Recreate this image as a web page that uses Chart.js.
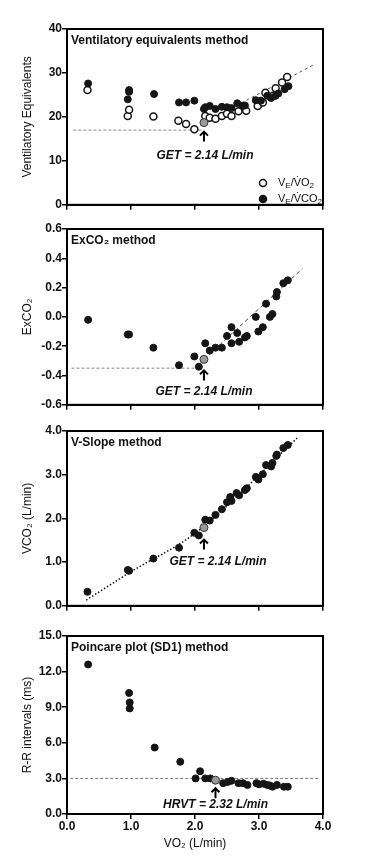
<!DOCTYPE html>
<html>
<head>
<meta charset="utf-8">
<script src="https://cdn.jsdelivr.net/npm/chart.js@4.4.1/dist/chart.umd.min.js"></script>
<style>
  body { margin: 0; background: #fff; width: 370px; height: 867px; position: relative; overflow: hidden; }
  canvas { position: absolute; left: 0; }
</style>
</head>
<body>
<canvas id="c1" width="370" height="195" style="top:17px"></canvas>
<canvas id="c2" width="370" height="195" style="top:217px"></canvas>
<canvas id="c3" width="370" height="194" style="top:419px"></canvas>
<canvas id="c4" width="370" height="229" style="top:624px"></canvas>
<script>
// ---- Panel 1: ventilatory equivalents ----
const veVo2X = [0.32, 0.95, 0.97, 1.35, 1.74, 1.86, 1.99, 2.16, 2.23, 2.32, 2.42, 2.50, 2.57, 2.68, 2.80, 2.98, 3.06, 3.10, 3.22, 3.26, 3.36, 3.44];
const veVo2Y = [26.1, 20.2, 21.6, 20.1, 19.1, 18.4, 17.2, 20.2, 19.8, 19.6, 20.2, 20.7, 20.2, 21.3, 21.4, 22.5, 23.3, 25.5, 24.8, 26.5, 27.8, 29.1];
const veVco2X = [0.33, 0.95, 0.97, 0.97, 1.36, 1.75, 1.86, 1.99, 2.14, 2.16, 2.23, 2.32, 2.42, 2.50, 2.57, 2.66, 2.74, 2.78, 2.95, 3.03, 3.13, 3.19, 3.26, 3.30, 3.40, 3.46];
const veVco2Y = [27.6, 24.0, 25.7, 26.1, 25.2, 23.3, 23.3, 23.7, 21.8, 22.2, 22.5, 21.8, 22.3, 22.2, 22.0, 23.1, 22.5, 22.6, 23.8, 23.7, 24.8, 24.3, 24.8, 25.3, 26.3, 27.0];
const veGet = [2.14, 18.7];
const veBaseX = [0.1, 2.1], veBaseY = [17.0, 17.0];
const veRiseX = [2.14, 3.86], veRiseY = [18.7, 31.9];

// ---- Panel 2: ExCO2 ----
const exX = [0.33, 0.95, 0.97, 1.35, 1.75, 1.99, 2.06, 2.16, 2.23, 2.32, 2.42, 2.50, 2.57, 2.57, 2.66, 2.69, 2.78, 2.81, 2.95, 2.99, 3.06, 3.11, 3.17, 3.21, 3.27, 3.28, 3.38, 3.45];
const exY = [-0.02, -0.12, -0.12, -0.21, -0.33, -0.27, -0.34, -0.18, -0.23, -0.21, -0.21, -0.13, -0.07, -0.18, -0.11, -0.17, -0.14, -0.13, 0.00, -0.10, -0.07, 0.09, 0.00, 0.02, 0.14, 0.17, 0.23, 0.25];
const exGet = [2.14, -0.29];
const exBaseX = [0.07, 2.1], exBaseY = [-0.35, -0.35];
const exRiseX = [2.14, 3.68], exRiseY = [-0.29, 0.33];

// ---- Panel 3: V-slope ----
const vsX = [0.32, 0.95, 0.97, 1.35, 1.75, 1.99, 2.06, 2.16, 2.23, 2.32, 2.42, 2.50, 2.55, 2.57, 2.65, 2.69, 2.78, 2.81, 2.95, 2.99, 3.06, 3.11, 3.19, 3.21, 3.27, 3.28, 3.38, 3.45];
const vsY = [0.32, 0.82, 0.80, 1.08, 1.33, 1.67, 1.61, 1.97, 1.95, 2.08, 2.21, 2.37, 2.49, 2.40, 2.58, 2.53, 2.65, 2.69, 2.95, 2.89, 3.01, 3.22, 3.19, 3.27, 3.43, 3.46, 3.61, 3.68];
const vsGet = [2.14, 1.79];
const vsFitX = [0.30, 1.0, 2.0, 3.62], vsFitY = [0.13, 0.78, 1.66, 3.87];

// ---- Panel 4: Poincare SD1 ----
const sdX = [0.33, 0.97, 0.98, 0.98, 1.37, 1.77, 2.01, 2.08, 2.16, 2.24, 2.44, 2.51, 2.57, 2.68, 2.75, 2.82, 2.96, 3.00, 3.07, 3.13, 3.17, 3.21, 3.28, 3.39, 3.45];
const sdY = [12.6, 10.2, 9.4, 8.9, 5.6, 4.4, 3.0, 3.6, 3.0, 3.0, 2.6, 2.7, 2.8, 2.6, 2.6, 2.45, 2.6, 2.5, 2.55, 2.45, 2.4, 2.3, 2.45, 2.3, 2.3];
const sdHrvt = [2.32, 2.85];
const sdLineX = [0.05, 3.95], sdLineY = [3.0, 3.0];

const xTicks = [0, 1, 2, 3, 4];

Chart.defaults.font.family = '"Liberation Sans", Arial, sans-serif';
Chart.defaults.color = '#111';

const pts = (xs, ys) => xs.map((v, i) => ({ x: v, y: ys[i] }));

const filled = (xs, ys) => ({ data: pts(xs, ys), backgroundColor: '#151515', borderColor: '#151515', borderWidth: 1, pointRadius: 3.5 });
const marker = (p) => ({ data: [{ x: p[0], y: p[1] }], backgroundColor: '#9a9a9a', borderColor: '#333', borderWidth: 1, pointRadius: 4, order: -1 });
const refLine = (xs, ys, color, dash, width) => ({
  data: pts(xs, ys), showLine: true, pointRadius: 0, borderColor: color, borderWidth: width, borderDash: dash, fill: false, order: 5
});

const panelDecor = {
  id: 'panelDecor',
  afterDraw(chart, args, o) {
    const { ctx, chartArea: a, scales: { x, y } } = chart;
    ctx.save();
    ctx.strokeStyle = '#000';
    ctx.lineWidth = 2;
    ctx.strokeRect(a.left, a.top, a.right - a.left, a.bottom - a.top);

    ctx.fillStyle = '#111';
    ctx.textBaseline = 'middle';
    ctx.textAlign = 'left';
    ctx.font = 'bold 12px "Liberation Sans", Arial, sans-serif';
    ctx.fillText(o.title, a.left + 4, a.top + 12);

    const px = x.getPixelForValue(o.mark[0]);
    const py = y.getPixelForValue(o.mark[1]);
    const tip = py + o.arrowGap;
    ctx.lineWidth = 2;
    ctx.beginPath();
    ctx.moveTo(px, tip + 10);
    ctx.lineTo(px, tip + 1);
    ctx.moveTo(px - 4, tip + 4);
    ctx.lineTo(px, tip);
    ctx.lineTo(px + 4, tip + 4);
    ctx.stroke();
    ctx.textAlign = 'center';
    ctx.font = 'italic bold 12px "Liberation Sans", Arial, sans-serif';
    ctx.fillText(o.label, px + o.labelDx, py + o.labelDy);

    if (o.legend) {
      const rows = [[154, '#fff', 'O'], [170, '#151515', 'CO']];
      rows.forEach(([dy, fill, tail]) => {
        const lx = a.left + 196, ly = a.top + dy;
        ctx.beginPath();
        ctx.arc(lx, ly, 3.5, 0, Math.PI * 2);
        ctx.fillStyle = fill;
        ctx.fill();
        ctx.lineWidth = 1.5;
        ctx.strokeStyle = '#151515';
        ctx.stroke();
        ctx.fillStyle = '#111';
        ctx.textAlign = 'left';
        let cx = lx + 15;
        const parts = [['V', 0], ['E', 1], ['/', 0], ['V\u0307' + tail, 0], ['2', 1]];
        parts.forEach(([t, sub]) => {
          ctx.font = (sub ? '8px' : '11px') + ' "Liberation Sans", Arial, sans-serif';
          ctx.fillText(t, cx, ly + (sub ? 3 : 0));
          cx += ctx.measureText(t).width;
        });
      });
    }
    ctx.restore();
  }
};

function scales(yMin, yMax, yStep, yDec, yTitle, showX) {
  return {
    x: {
      type: 'linear', min: 0, max: 4,
      afterBuildTicks: s => { s.ticks = xTicks.map(v => ({ value: v })); },
      ticks: { display: showX, padding: 0, font: { size: 12, weight: 'bold' }, callback: v => v.toFixed(1) },
      grid: { drawOnChartArea: false, drawTicks: true, tickLength: 5, color: '#000', lineWidth: 1.5 },
      border: { color: '#000', width: 2 },
      title: { display: showX, text: 'VO\u2082 (L/min)', font: { size: 12 }, padding: { top: 2, bottom: 2 } },
      afterFit: s => { s.height = showX ? 39 : 5; }
    },
    y: {
      type: 'linear', min: yMin, max: yMax,
      ticks: { stepSize: yStep, padding: 0, font: { size: 12, weight: 'bold' }, callback: v => v.toFixed(yDec) },
      grid: { drawOnChartArea: false, drawTicks: true, tickLength: 5, color: '#000', lineWidth: 1.5 },
      border: { color: '#000', width: 2 },
      title: { display: true, text: yTitle, font: { size: 12 }, padding: { top: 20, bottom: 0 } },
      afterFit: s => { s.width = 67; }
    }
  };
}

function makeChart(id, datasets, sc, decor) {
  return new Chart(document.getElementById(id), {
    type: 'scatter',
    data: { datasets },
    options: {
      responsive: false,
      animation: false,
      events: [],
      layout: { padding: { top: 12, right: 47, bottom: 0, left: 0 } },
      scales: sc,
      plugins: { legend: { display: false }, tooltip: { enabled: false }, panelDecor: decor }
    },
    plugins: [panelDecor]
  });
}

makeChart('c1', [
  marker(veGet),
  filled(veVco2X, veVco2Y),
  { data: pts(veVo2X, veVo2Y), backgroundColor: '#fff', borderColor: '#151515', borderWidth: 1.5, pointRadius: 3.5 },
  refLine(veBaseX, veBaseY, '#888', [3, 2], 1),
  refLine(veRiseX, veRiseY, '#555', [3, 3], 1)
], scales(0, 40, 10, 0, 'Ventilatory Equivalents', false),
  { title: 'Ventilatory equivalents method', label: 'GET = 2.14 L/min', mark: veGet, arrowGap: 9, labelDx: 1, labelDy: 33, legend: true });

makeChart('c2', [
  marker(exGet),
  filled(exX, exY),
  refLine(exBaseX, exBaseY, '#888', [3, 2], 1),
  refLine(exRiseX, exRiseY, '#444', [4, 3], 1)
], scales(-0.6, 0.6, 0.2, 1, 'ExCO\u2082', false),
  { title: 'ExCO\u2082 method', label: 'GET = 2.14 L/min', mark: exGet, arrowGap: 11, labelDx: 0, labelDy: 32 });

makeChart('c3', [
  marker(vsGet),
  filled(vsX, vsY),
  Object.assign(refLine(vsFitX, vsFitY, '#111', [1.5, 2], 1.5), { cubicInterpolationMode: 'monotone' })
], scales(0, 4, 1, 1, 'VCO\u2082 (L/min)', false),
  { title: 'V-Slope method', label: 'GET = 2.14 L/min', mark: vsGet, arrowGap: 12, labelDx: 14, labelDy: 34 });

makeChart('c4', [
  marker(sdHrvt),
  filled(sdX, sdY),
  refLine(sdLineX, sdLineY, '#777', [3, 2], 1)
], scales(0, 15, 3, 1, 'R-R intervals (ms)', true),
  { title: 'Poincare plot (SD1) method', label: 'HRVT = 2.32 L/min', mark: sdHrvt, arrowGap: 8, labelDx: 0, labelDy: 25 });
</script>
</body>
</html>
